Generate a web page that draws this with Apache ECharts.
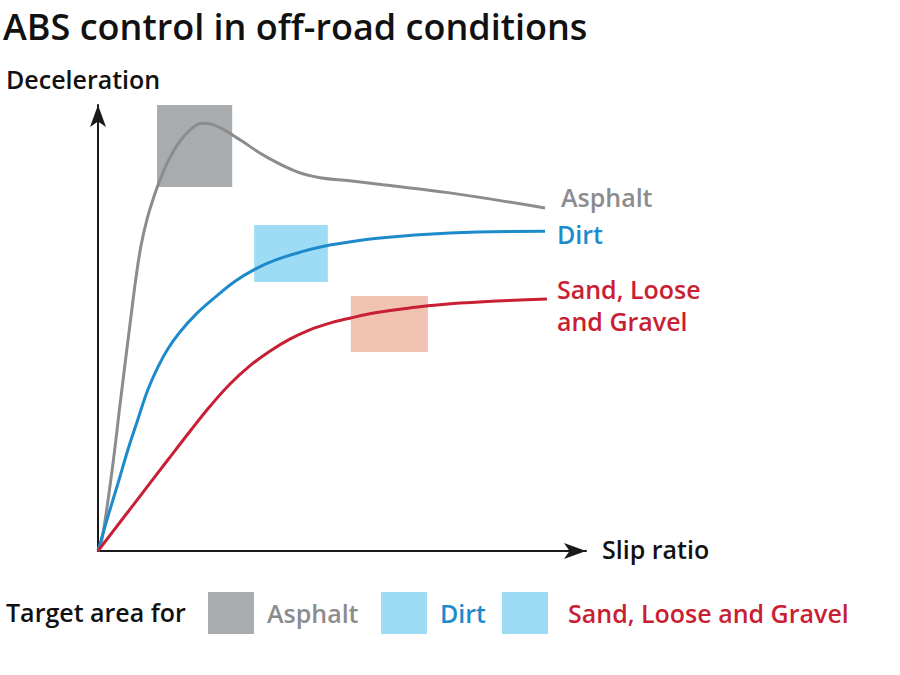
<!DOCTYPE html>
<html>
<head>
<meta charset="utf-8">
<script src="https://cdn.jsdelivr.net/npm/echarts@6/dist/echarts.min.js"></script>
<style>
  html, body { margin: 0; padding: 0; background: #fff; }
  #chart { width: 900px; height: 675px; }
</style>
</head>
<body>
<div id="chart"></div>
<script>
  // == curve data: [slip ratio, deceleration] in arbitrary 0-100 units ==
  const asphaltData = [
    [0, 0], [0.8, 2.5], [2.9, 18.2], [4.5, 32.7], [5.9, 45.1], [7.0, 54.7],
    [7.8, 61.4], [8.8, 68.4], [10.0, 74.2], [11.3, 78.9], [12.7, 83.2],
    [14.5, 87.7], [16.8, 91.9], [19.1, 94.6], [21.3, 95.9], [23.6, 95.6],
    [26.2, 94.2], [29.1, 92.2], [34.6, 88.3], [40.8, 85.0], [45.5, 83.7],
    [51.6, 83.0], [58.4, 82.1], [72.1, 80.3], [91.6, 76.9]
  ];
  const dirtData = [
    [0, 0], [2.0, 7.6], [4.1, 15.2], [6.1, 22.6], [8.2, 29.6], [10.2, 36.1],
    [12.3, 41.3], [14.3, 45.3], [16.8, 49.1], [19.9, 52.9], [24.0, 56.9],
    [28.1, 60.5], [32.2, 63.2], [36.3, 65.2], [41.4, 67.0], [47.5, 68.6],
    [57.8, 70.2], [72.1, 71.3], [91.6, 71.7]
  ];
  const sandData = [
    [0, 0], [4.9, 7.0], [9.6, 13.7], [14.3, 20.4], [18.9, 26.9], [23.0, 32.5],
    [27.0, 37.4], [31.1, 41.5], [35.2, 44.8], [39.3, 47.5], [43.4, 49.6],
    [47.5, 51.1], [51.6, 52.2], [56.8, 53.4], [63.9, 54.5], [74.2, 55.6],
    [92.0, 56.5]
  ];
  // == target areas: [xFrom, yFrom, xTo, yTo] ==
  const asphaltTarget = [12.1, 81.6, 27.5, 100];
  const dirtTarget = [32.0, 60.3, 47.1, 73.1];
  const sandTarget = [51.8, 44.6, 67.6, 57.2];
  const seriesNames = ['Asphalt', 'Dirt', 'Sand, Loose and Gravel'];
  const endLabels = ['Asphalt', 'Dirt', 'Sand, Loose\nand Gravel'];

  const FONT = 'Open Sans';
  const GRAY = '#8b8c8e';
  const BLUE = '#1d8bcb';
  const RED = '#c91f35';

  function area(t, color) {
    return {
      silent: true,
      itemStyle: { color: color, opacity: 1 },
      data: [[{ coord: [t[0], t[1]] }, { coord: [t[2], t[3]] }]]
    };
  }

  function line(name, data, color, target, targetColor, label, offset) {
    return {
      name: name,
      type: 'line',
      data: data,
      smooth: 0.4,
      showSymbol: false,
      lineStyle: { color: color, width: 3 },
      itemStyle: { color: color },
      markArea: area(target, targetColor),
      endLabel: {
        show: true,
        formatter: label,
        offset: offset,
        color: color,
        fontFamily: FONT,
        fontWeight: 600,
        fontSize: 25,
        lineHeight: 32
      },
      emphasis: { disabled: true }
    };
  }

  function legendItem(name, left, textColor, swatch, gap) {
    return {
      left: left,
      top: 592,
      padding: 0,
      icon: 'rect',
      itemWidth: 46,
      itemHeight: 42,
      itemGap: 0,
      selectedMode: false,
      data: [{ name: name, itemStyle: { color: swatch, borderWidth: 0 } }],
      textStyle: { color: textColor, fontFamily: FONT, fontWeight: 600, fontSize: 25, padding: [0, 0, 0, gap] }
    };
  }

  const myChart = echarts.init(document.getElementById('chart'), null, { renderer: 'svg' });
  const option = {
    animation: false,
    backgroundColor: '#fff',
    title: [
      { text: 'ABS control in off-road conditions', left: 3, top: 6, padding: 0,
        textStyle: { fontFamily: FONT, fontWeight: 600, fontSize: 36, lineHeight: 40, color: '#111' } },
      { text: 'Deceleration', left: 6, top: 66, padding: 0,
        textStyle: { fontFamily: FONT, fontWeight: 600, fontSize: 25, color: '#111' } },
      { text: 'Slip ratio', left: 602, top: 536, padding: 0,
        textStyle: { fontFamily: FONT, fontWeight: 600, fontSize: 25, color: '#111' } },
      { text: 'Target area for', left: 6, top: 599, padding: 0,
        textStyle: { fontFamily: FONT, fontWeight: 600, fontSize: 25, color: '#111' } }
    ],
    legend: [
      legendItem(seriesNames[0], 208, GRAY, '#a9acaf', 8),
      legendItem(seriesNames[1], 381, BLUE, '#9edcf5', 8),
      legendItem(seriesNames[2], 502, RED, '#9edcf5', 15)
    ],
    grid: { left: 98, right: 314, top: 105, bottom: 124, containLabel: false },
    xAxis: {
      type: 'value', min: 0, max: 100,
      axisLine: { lineStyle: { color: '#1a1a1a', width: 2 }, symbol: ['none', 'arrow'], symbolSize: [12, 22] },
      axisTick: { show: false }, axisLabel: { show: false }, splitLine: { show: false }
    },
    yAxis: {
      type: 'value', min: 0, max: 100,
      axisLine: { show: true, lineStyle: { color: '#1a1a1a', width: 2 }, symbol: ['none', 'arrow'], symbolSize: [12, 22] },
      axisTick: { show: false }, axisLabel: { show: false }, splitLine: { show: false }
    },
    series: [
      line(seriesNames[0], asphaltData, GRAY, asphaltTarget, '#a9acaf', endLabels[0], [8, -11]),
      line(seriesNames[1], dirtData, BLUE, dirtTarget, '#9edcf5', endLabels[1], [4, 3]),
      line(seriesNames[2], sandData, RED, sandTarget, '#f0c3b3', endLabels[2], [2, 6])
    ]
  };
  myChart.setOption(option);
</script>
</body>
</html>
